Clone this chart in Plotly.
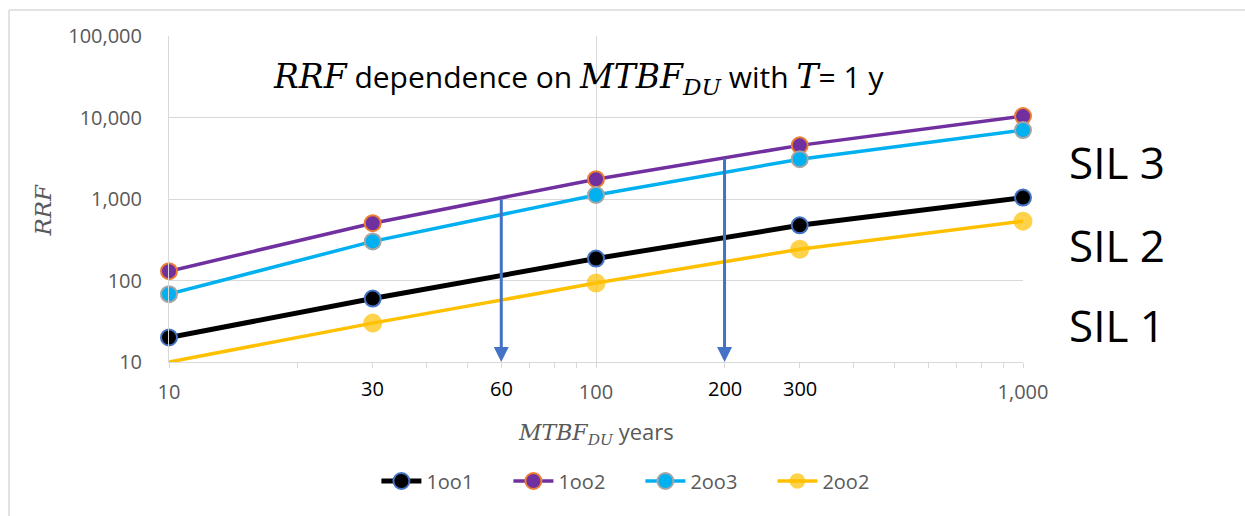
import math
import plotly.graph_objects as go

# ---- data ----
mtbf = [10, 30, 100, 300, 1000]
rrf_1oo1 = [20, 60, 186, 475, 1040]
rrf_1oo2 = [130, 505, 1750, 4550, 10400]
rrf_2oo3 = [68, 302, 1120, 3080, 7000]
rrf_2oo2 = [10, 30, 93, 242, 535]

series_names = ["1oo1", "1oo2", "2oo3", "2oo2"]

arrow_x = [60, 200]
arrow_top = [1030, 3270]
arrow_bottom = [10, 10]

x_tickvals = [10, 100, 1000]
x_ticktext = ["10", "100", "1,000"]
x_extra_labels = [30, 60, 200, 300]
y_tickvals = [10, 100, 1000, 10000, 100000]
y_ticktext = ["10", "100", "1,000", "10,000", "100,000"]
sil_labels = ["SIL 3", "SIL 2", "SIL 1"]
sil_ypos = [0.613, 0.358, 0.113]

# ---- styling ----
SANS = "Open Sans, Noto Sans, sans-serif"
SERIF = "DejaVu Serif, Liberation Serif, serif"
GRAY = "#595959"
GRID = "#d9d9d9"

styles = {
    "1oo1": dict(line="#000000", fill="#000000", edge="#4472C4", width=5),
    "1oo2": dict(line="#7030A0", fill="#7030A0", edge="#ED7D31", width=3.5),
    "2oo3": dict(line="#00B0F0", fill="#00B0F0", edge="#A5A5A5", width=3.5),
    "2oo2": dict(line="#FFC000", fill="#FFC000", edge="#FFC000", width=3.5),
}
values = {"1oo1": rrf_1oo1, "1oo2": rrf_1oo2, "2oo3": rrf_2oo3, "2oo2": rrf_2oo2}

fig = go.Figure()
for name in series_names:
    st = styles[name]
    msize = 16
    if name == "2oo2":
        # first point sits on the axis minimum and is not drawn in the original
        msize = [0] + [17] * (len(mtbf) - 1)
    fig.add_trace(go.Scatter(
        x=mtbf, y=values[name], name=name, mode="lines+markers",
        line=dict(color=st["line"], width=st["width"]),
        marker=dict(size=msize, color=st["fill"], line=dict(color=st["edge"], width=2)),
        cliponaxis=False,
    ))

annotations = []
for xa, yt, yb in zip(arrow_x, arrow_top, arrow_bottom):
    annotations.append(dict(
        x=math.log10(xa), y=math.log10(yb), ax=math.log10(xa), ay=math.log10(yt),
        xref="x", yref="y", axref="x", ayref="y", text="", showarrow=True,
        arrowhead=2, arrowsize=1, arrowwidth=3, arrowcolor="#4472C4", standoff=0,
    ))

for v in x_extra_labels:
    annotations.append(dict(
        x=math.log10(v), y=-0.08, xref="x", yref="paper", text=str(v), showarrow=False,
        font=dict(family=SANS, size=20, color="#000000"), xanchor="center", yanchor="middle",
    ))

for t, yp in zip(sil_labels, sil_ypos):
    annotations.append(dict(
        x=1.052, y=yp, xref="paper", yref="paper", text=t, showarrow=False,
        font=dict(family=SANS, size=44, color="#000000"), xanchor="left", yanchor="middle",
    ))


def serif(txt, size):
    return ('<span style="font-family:DejaVu Serif, Liberation Serif, serif;font-size:%dpx">'
            '<i>%s</i></span>' % (size, txt))


title_text = serif("RRF", 33) + " dependence on " + serif("MTBF<sub>DU</sub>", 33) + \
    " with " + serif("T", 33) + "= 1 y"
annotations.append(dict(
    x=0.479, y=0.871, xref="paper", yref="paper", text=title_text, showarrow=False,
    font=dict(family=SANS, size=30, color="#000000"), xanchor="center", yanchor="middle",
))

annotations.append(dict(
    x=0.5, y=-0.215, xref="paper", yref="paper",
    text=serif("MTBF<sub>DU</sub>", 22) + " years", showarrow=False,
    font=dict(family=SANS, size=22, color=GRAY), xanchor="center", yanchor="middle",
))

annotations.append(dict(
    x=-0.147, y=0.466, xref="paper", yref="paper", text="<i>RRF</i>", showarrow=False,
    textangle=-90, font=dict(family=SERIF, size=23, color=GRAY), xanchor="center", yanchor="middle",
))

minor_vals = [m * 10 ** e for e in (1, 2) for m in range(2, 10)]

# light chart-area border (top and left edges visible)
bx = (9 - 169) / 854
by = (362 - 10) / 326
shapes = [
    dict(type="line", xref="paper", yref="paper", x0=bx, x1=1.4, y0=by, y1=by,
         line=dict(color=GRID, width=1.5)),
    dict(type="line", xref="paper", yref="paper", x0=bx, x1=bx, y0=by, y1=-0.6,
         line=dict(color=GRID, width=1.5)),
]

fig.update_layout(
    width=1245, height=516,
    margin=dict(l=169, r=222, t=36, b=154),
    paper_bgcolor="white", plot_bgcolor="white",
    showlegend=True,
    legend=dict(orientation="h", x=0.552, xanchor="center", y=-0.365, yanchor="middle",
                font=dict(family=SANS, size=20, color=GRAY),
                entrywidth=77, entrywidthmode="pixels", itemwidth=40,
                bgcolor="rgba(0,0,0,0)"),
    annotations=annotations,
    shapes=shapes,
    xaxis=dict(type="log", range=[1, 3], tickvals=x_tickvals, ticktext=x_ticktext,
               showgrid=True, gridcolor=GRID, gridwidth=1,
               showline=True, linecolor=GRID, linewidth=1,
               ticks="outside", ticklen=5, tickcolor=GRID,
               tickfont=dict(family=SANS, size=20, color=GRAY), ticklabelstandoff=7,
               minor=dict(tickvals=minor_vals, ticks="outside", ticklen=5, tickcolor=GRID,
                          showgrid=False),
               zeroline=False, fixedrange=True),
    yaxis=dict(type="log", range=[1, 5], tickvals=y_tickvals, ticktext=y_ticktext,
               showgrid=True, gridcolor=GRID, gridwidth=1,
               showline=True, linecolor=GRID, linewidth=1, ticks="",
               tickfont=dict(family=SANS, size=20, color=GRAY), ticklabelstandoff=22,
               zeroline=False, fixedrange=True),
)

fig.write_html("out.html")
